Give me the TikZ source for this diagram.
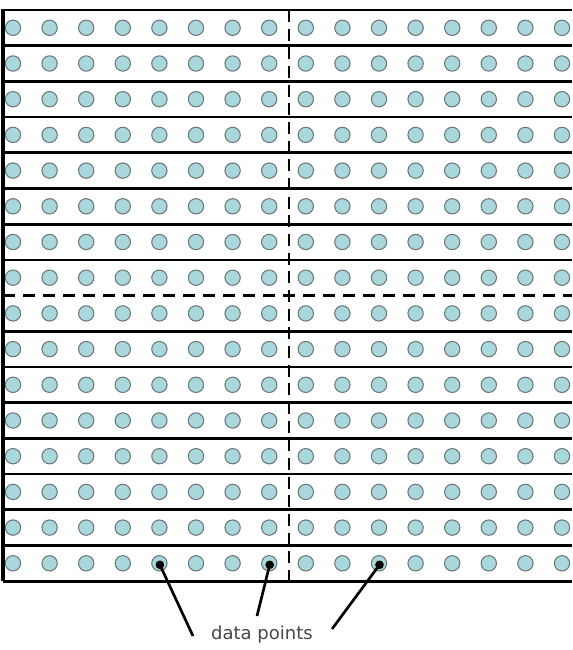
\documentclass[tikz,border=0pt]{standalone}
\usepackage{fontspec}
\newfontfamily\handfont{DejaVu Sans}
\usetikzlibrary{calc}

\definecolor{dotfill}{RGB}{168,216,220}
\definecolor{dotline}{RGB}{110,120,122}
\definecolor{labelgray}{RGB}{70,70,70}

\begin{document}
\begin{tikzpicture}[x=0.75pt, y=-0.75pt,
    datadot/.style={circle, draw=dotline, fill=dotfill, line width=0.8pt, inner sep=0pt, minimum size=11.5pt},
    rowline/.style={line width=2pt}]
    \useasboundingbox (0,0) rectangle (572,650);

    % rows of points
    \foreach \r in {1,...,16} {
        \foreach \c in {1,...,16} {
            \node [datadot] (p-\r-\c) at ({13+36.6*(\c-1)}, {27.8+35.7*(\r-1)}) {};
        }
    }

    % row separators
    \foreach \k in {0,...,7,9,10,...,16} {
        \draw [rowline] (3, {10+35.7*\k}) -- (572, {10+35.7*\k});
    }
    \draw [line width=2pt, dash pattern=on 9pt off 6pt] (3, {10+35.7*8}) -- (572, {10+35.7*8});
    \draw [line width=2pt, dash pattern=on 9pt off 5pt] (289, 10) -- (289, 585);
    \draw [line width=2.4pt] (3, 9) -- (3, {10+35.7*16});

    % label
    \node [text=labelgray, font=\handfont\fontsize{13.5}{16}\selectfont] (lbl) at (262, 635) {data points};
    \coordinate (e1) at (193, 636);
    \coordinate (e2) at (257, 616);
    \coordinate (e3) at (332, 629);
    \foreach \c/\e in {5/e1, 8/e2, 11/e3} {
        \filldraw [black] ($(p-16-\c)+(0.5,1.5)$) circle (4);
        \draw [line width=2pt] ($(p-16-\c)+(0.5,1.5)$) -- (\e);
    }
\end{tikzpicture}
\end{document}
